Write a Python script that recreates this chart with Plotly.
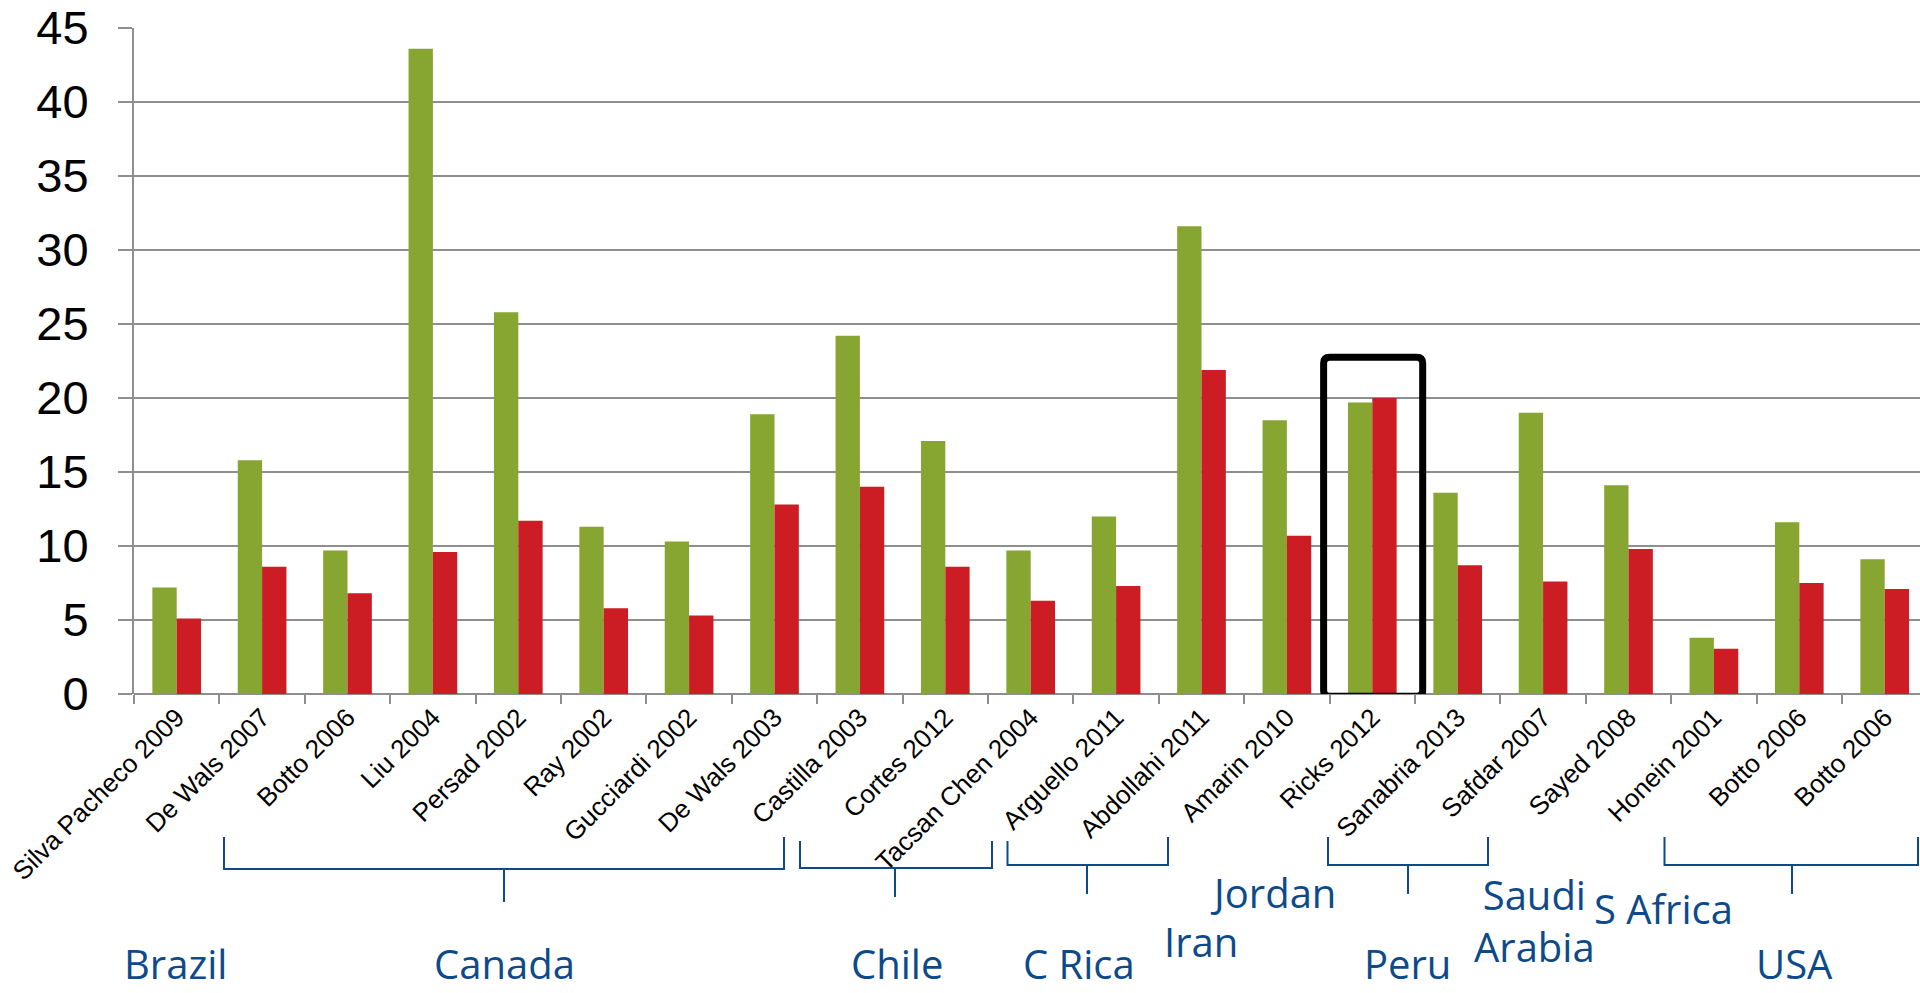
import plotly.graph_objects as go

# ---------------- data ----------------
studies = ["Silva Pacheco 2009", "De Wals 2007", "Botto 2006", "Liu 2004", "Persad 2002",
           "Ray 2002", "Gucciardi 2002", "De Wals 2003", "Castilla 2003", "Cortes 2012",
           "Tacsan Chen 2004", "Arguello 2011", "Abdollahi 2011", "Amarin 2010", "Ricks 2012",
           "Sanabria 2013", "Safdar 2007", "Sayed 2008", "Honein 2001", "Botto 2006", "Botto 2006"]
before = [7.2, 15.8, 9.7, 43.6, 25.8, 11.3, 10.3, 18.9, 24.2, 17.1,
          9.7, 12.0, 31.6, 18.5, 19.7, 13.6, 19.0, 14.1, 3.8, 11.6, 9.1]
after = [5.1, 8.6, 6.8, 9.6, 11.7, 5.8, 5.3, 12.8, 14.0, 8.6,
         6.3, 7.3, 21.9, 10.7, 20.0, 8.7, 7.6, 9.8, 3.05, 7.5, 7.1]
y_ticks = [0, 5, 10, 15, 20, 25, 30, 35, 40, 45]
highlight_index = 14

countries = ["Brazil", "Canada", "Chile", "C Rica", "Iran", "Jordan", "Peru",
             "Saudi<br>Arabia", "S Africa", "USA"]

# ---------------- layout constants ----------------
W, H = 1920, 993
ML, MT, MB = 134, 28, 299
PLOT_H = H - MT - MB
CAT_W = 85.4
Y_PX = PLOT_H / 45.0
GREEN = "#86A531"
RED = "#CC1D24"
BLUE = "#0D4A8A"
GRID = "#8E8E8E"

n = len(studies)
xs = list(range(n))
x_right = -0.5 + (W - ML) / CAT_W


def py(pix):
    """pixel y (from top of page) -> paper coordinate"""
    return (H - MB - pix) / PLOT_H


def px(pix):
    """pixel x -> data x"""
    return (pix - ML) / CAT_W - 0.5


fig = go.Figure()
fig.add_trace(go.Bar(x=xs, y=before, marker=dict(color=GREEN, line=dict(width=0)), name="before"))
fig.add_trace(go.Bar(x=xs, y=after, marker=dict(color=RED, line=dict(width=0)), name="after"))

shapes = []
# highlight box (rounded) around the Ricks 2012 pair
bx0, bx1 = highlight_index - 0.57, highlight_index + 0.59
by0, by1 = -0.15, max(before[highlight_index], after[highlight_index]) + 2.75
rx, ry = 6 / CAT_W, 6 / Y_PX
box_path = (f"M {bx0 + rx} {by1} L {bx1 - rx} {by1} Q {bx1} {by1} {bx1} {by1 - ry} "
            f"L {bx1} {by0 + ry} Q {bx1} {by0} {bx1 - rx} {by0} "
            f"L {bx0 + rx} {by0} Q {bx0} {by0} {bx0} {by0 + ry} "
            f"L {bx0} {by1 - ry} Q {bx0} {by1} {bx0 + rx} {by1} Z")
shapes.append(dict(type="path", xref="x", yref="y", path=box_path,
                   line=dict(color="black", width=7), fillcolor="rgba(0,0,0,0)", layer="above"))

brackets = [
    # x_left, x_right, top_left, top_right, horiz_y, x_mid, drop_bottom
    (224, 784, 837, 837, 869, 504, 902),
    (800, 992, 841, 841, 868, 895, 897),
    (1007.5, 1168, 841, 837, 865, 1087, 894),
    (1328, 1488, 837, 837, 865, 1408, 894),
    (1664.5, 1918, 837, 837, 865, 1792, 894),
]
for xl, xr, tl, tr, hy, xm, db in brackets:
    path = (f"M {px(xl)} {py(tl)} L {px(xl)} {py(hy)} L {px(xr)} {py(hy)} L {px(xr)} {py(tr)} "
            f"M {px(xm)} {py(hy)} L {px(xm)} {py(db)}")
    shapes.append(dict(type="path", xref="x", yref="paper", path=path,
                       line=dict(color=BLUE, width=2)))

# country label positions (center x pixel, cap-center y pixel)
label_pos = [(175, 963), (504, 963), (897, 963), (1079, 963), (1201, 941),
             (1273, 892), (1407, 963), (1534, 920), (1663, 909), (1794, 963)]
annotations = []
for text, (cx, cy) in zip(countries, label_pos):
    annotations.append(dict(text=text, x=px(cx), y=py(cy), xref="x", yref="paper",
                            xanchor="center", yanchor="middle", showarrow=False,
                            align="center",
                            font=dict(family="Open Sans", size=40, color=BLUE)))

fig.update_layout(
    width=W, height=H,
    margin=dict(l=ML, r=0, t=MT, b=MB, pad=0),
    paper_bgcolor="white", plot_bgcolor="white",
    showlegend=False,
    barmode="group", bargap=0.43, bargroupgap=0,
    shapes=shapes, annotations=annotations,
    xaxis=dict(
        range=[-0.5, x_right],
        tickmode="array", tickvals=xs, ticktext=studies,
        tickangle=-45, ticks="", showgrid=False, zeroline=False,
        showline=False,
        tickfont=dict(family="Liberation Sans", size=26, color="black"),
        ticklabelstandoff=2,
        minor=dict(tickmode="array", tickvals=[i - 0.5 for i in range(n + 1)],
                   ticks="outside", ticklen=9, tickwidth=2, tickcolor=GRID, showgrid=False),
    ),
    yaxis=dict(
        range=[0, 45], tickmode="array", tickvals=y_ticks,
        showgrid=True, gridcolor=GRID, gridwidth=2,
        zeroline=True, zerolinecolor=GRID, zerolinewidth=2,
        showline=True, linecolor=GRID, linewidth=2,
        ticks="outside", ticklen=14, tickwidth=2, tickcolor=GRID,
        tickfont=dict(family="Liberation Sans", size=47, color="black"),
        ticklabelstandoff=20,
    ),
)

fig.write_html("out.html", config={"displayModeBar": False})
